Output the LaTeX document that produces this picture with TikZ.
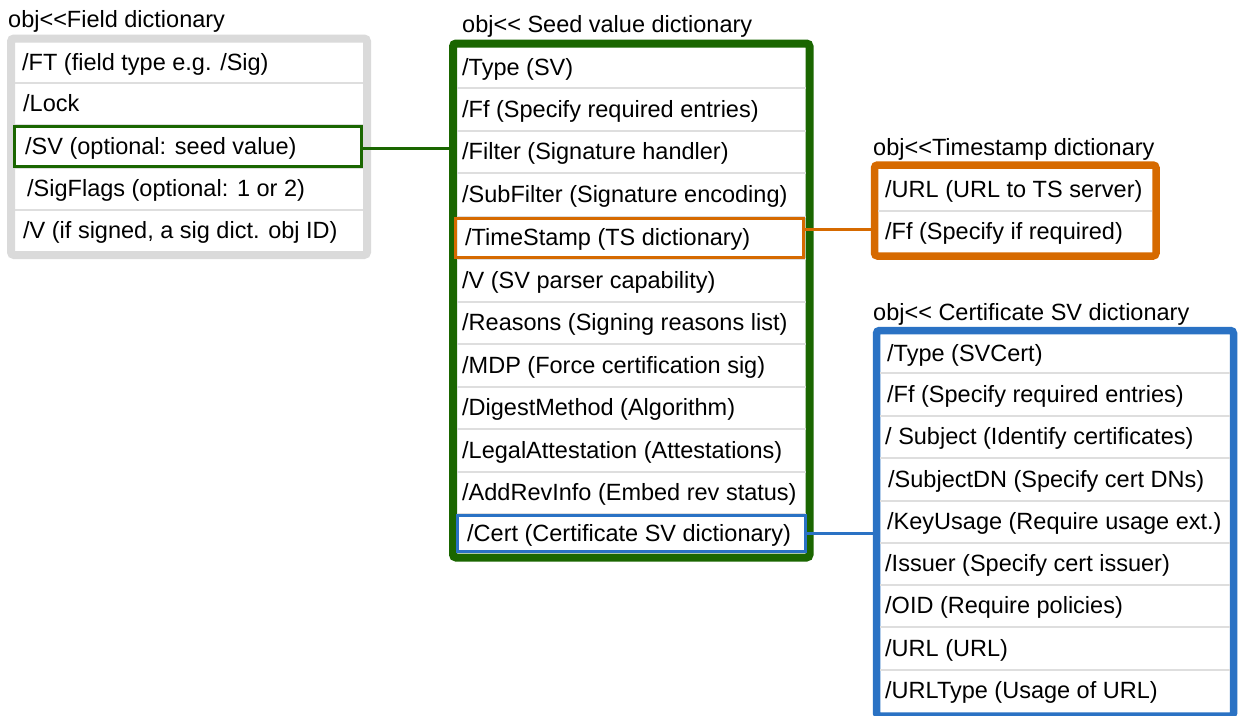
\documentclass[tikz,border=0pt]{standalone}
\usepackage{fontspec}
\setmainfont{Liberation Sans}
\definecolor{grn}{RGB}{26,102,0}
\definecolor{org}{RGB}{214,106,0}
\definecolor{blu}{RGB}{42,114,196}
\definecolor{frgray}{RGB}{218,218,218}
\definecolor{sepgray}{RGB}{222,222,222}
\begin{document}
\begin{tikzpicture}[x=1pt,y=-1pt,
  frame/.style={draw, inner sep=0pt, rounded corners=3pt, fill=white},
  hl/.style={draw, line width=3pt, inner sep=0pt},
  lbl/.style={anchor=base west, inner sep=0pt, font=\fontsize{23.5}{28}\selectfont},
  sep/.style={draw=sepgray, line width=2pt},
  conn/.style={line width=3pt}]
\useasboundingbox (0,0) rectangle (1239,715);
\fill[white] (0,0) rectangle (1239,715);

% titles
\node[lbl] (tfield) at (8,27) {obj<{}<Field dictionary};
\node[lbl] (tseed) at (462,32) {obj<{}< Seed value dictionary};
\node[lbl] (tts) at (873,155) {obj<{}<Timestamp dictionary};
\node[lbl] (tcert) at (873,320) {obj<{}< Certificate SV dictionary};

% frames
\node[frame, draw=frgray, line width=8pt, minimum width=356pt, minimum height=216.5pt] (field) at (189,146.75) {};
\node[frame, draw=grn, line width=8pt, minimum width=356.5pt, minimum height=514pt] (seed) at (631.25,300.5) {};
\node[frame, draw=org, line width=7.5pt, minimum width=281.5pt, minimum height=91pt] (tsd) at (1015.25,210.5) {};
\node[frame, draw=blu, line width=7.5pt, minimum width=357pt, minimum height=385.5pt] (cert) at (1055,523.25) {};

% separators
\foreach \y in {83,125,168,210} \draw[sep] (15,\y) -- (363,\y);
\foreach \y in {88,131,173,217,259,302,344,387,429,472,514} \draw[sep] (457,\y) -- (806,\y);
\draw[sep] (878,211) -- (1152,211);
\foreach \y in {373,416,458,501,543,585,627,670} \draw[sep] (880,\y) -- (1230,\y);

% highlighted rows
\node[hl, draw=grn, minimum width=347pt, minimum height=40pt] (svrow) at (188,146.5) {};
\node[hl, draw=org, minimum width=348pt, minimum height=39pt] (tsrow) at (629.5,238) {};
\node[hl, draw=blu, minimum width=348pt, minimum height=36pt] (certrow) at (631.5,533.5) {};

% field rows
\node[lbl] (f1) at (22,70.5) {/FT (field type e.g. /Sig)};
\node[lbl] (f2) at (23,111.5) {/Lock};
\node[lbl] (f3) at (25,154) {/SV (optional: seed value)};
\node[lbl] (f4) at (27,196.5) {/SigFlags (optional: 1 or 2)};
\node[lbl] (f5) at (23,238) {/V (if signed, a sig dict. obj ID)};

% seed rows
\node[lbl] (s1) at (462,75.5) {/Type (SV)};
\node[lbl] (s2) at (462,117) {/Ff (Specify required entries)};
\node[lbl] (s3) at (462,159.5) {/Filter (Signature handler)};
\node[lbl] (s4) at (462,202.5) {/SubFilter (Signature encoding)};
\node[lbl] (s5) at (465,245.5) {/TimeStamp (TS dictionary)};
\node[lbl] (s6) at (462,288) {/V (SV parser capability)};
\node[lbl] (s7) at (462,330.5) {/Reasons (Signing reasons list)};
\node[lbl] (s8) at (462,373) {/MDP (Force certification sig)};
\node[lbl] (s9) at (462,415.5) {/DigestMethod (Algorithm)};
\node[lbl] (s10) at (462,458) {/LegalAttestation (Attestations)};
\node[lbl] (s11) at (462,500.5) {/AddRevInfo (Embed rev status)};
\node[lbl] (s12) at (467,541) {/Cert (Certificate SV dictionary)};

% timestamp rows
\node[lbl] (t1) at (885,197.5) {/URL (URL to TS server)};
\node[lbl] (t2) at (885,239) {/Ff (Specify if required)};

% cert rows
\node[lbl] (c1) at (887,361) {/Type (SVCert)};
\node[lbl] (c2) at (887,402) {/Ff (Specify required entries)};
\node[lbl] (c3) at (885,444.5) {/ Subject (Identify certificates)};
\node[lbl] (c4) at (888,487) {/SubjectDN (Specify cert DNs)};
\node[lbl] (c5) at (887,529.5) {/KeyUsage (Require usage ext.)};
\node[lbl] (c6) at (885,571.5) {/Issuer (Specify cert issuer)};
\node[lbl] (c7) at (885,613.5) {/OID (Require policies)};
\node[lbl] (c8) at (885,656) {/URL (URL)};
\node[lbl] (c9) at (885,698.5) {/URLType (Usage of URL)};

% connectors
\draw[conn, grn] ([yshift=-1.5pt]svrow.east) -- ([yshift=-1.5pt]svrow.east -| seed.west);
\draw[conn, org] ([yshift=9pt]tsrow.east) -- ([yshift=9pt]tsrow.east -| tsd.west);
\draw[conn, blu] (certrow.east) -- (certrow.east -| cert.west);
\end{tikzpicture}
\end{document}
